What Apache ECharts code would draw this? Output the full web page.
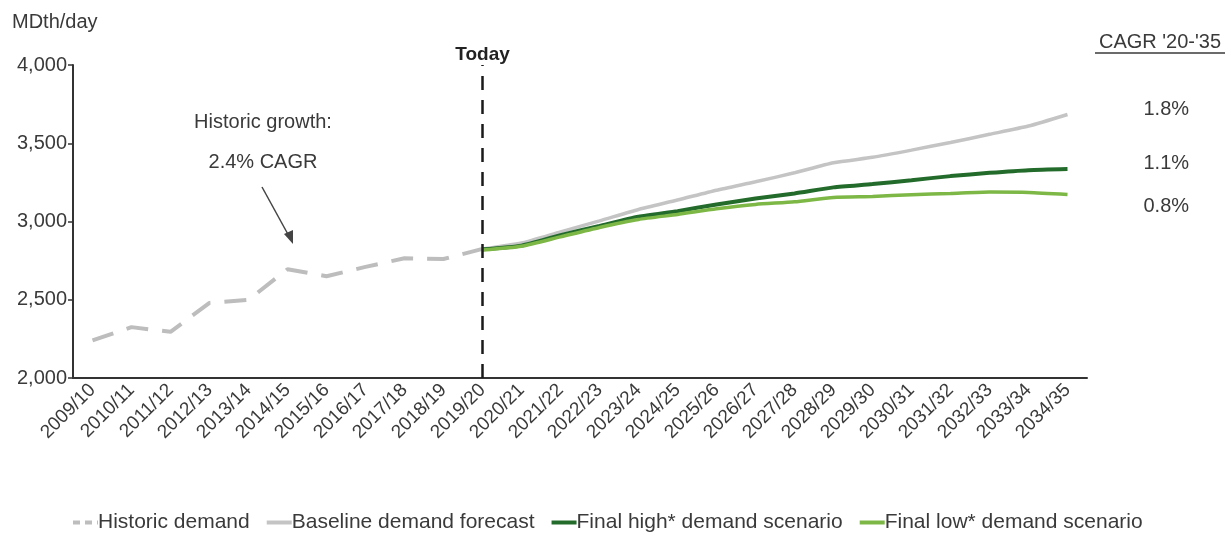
<!DOCTYPE html>
<html>
<head>
<meta charset="utf-8">
<script src="https://cdn.jsdelivr.net/npm/echarts@6/dist/echarts.min.js"></script>
<style>
html,body{margin:0;padding:0;background:#fff;}
#chart{width:1228px;height:535px;}
</style>
</head>
<body>
<div id="chart"></div>
<script>
const categories = ['2009/10','2010/11','2011/12','2012/13','2013/14','2014/15','2015/16','2016/17','2017/18','2018/19','2019/20','2020/21','2021/22','2022/23','2023/24','2024/25','2025/26','2026/27','2027/28','2028/29','2029/30','2030/31','2031/32','2032/33','2033/34','2034/35'];
const historic = [2240,2325,2295,2480,2500,2695,2650,2710,2765,2760,2825];
const baseline = [2825,2863,2934,3004,3077,3137,3200,3254,3311,3375,3410,3456,3505,3557,3610,3684];
const high = [2822,2846,2913,2972,3030,3066,3109,3147,3179,3218,3239,3264,3290,3311,3328,3335];
const low = [2818,2842,2902,2962,3013,3045,3081,3109,3126,3154,3160,3171,3179,3188,3186,3173];
const cagr = ['1.8%','1.1%','0.8%'];
const yTicks = {min:2000, max:4000, interval:500};
const todayCategory = '2019/20';

const forecastStart = categories.indexOf(todayCategory);
const padFront = arr => Array(forecastStart).fill(null).concat(arr);
const padBack = arr => arr.concat(Array(categories.length - arr.length).fill(null));

const chart = echarts.init(document.getElementById('chart'), null, {renderer:'canvas'});
const font = 'Liberation Sans, Arial, sans-serif';
const txt = '#3a3a3a';

chart.setOption({
  animation:false,
  textStyle:{fontFamily:font},
  grid:{left:73, right:141, top:65, bottom:157, containLabel:false},
  legend:{
    left:66, top:507, itemGap:15, itemWidth:25, itemHeight:8,
    itemStyle:{opacity:0},
    textStyle:{fontSize:21, color:txt, fontFamily:font, padding:[0,0,0,-5]},
    data:[
      {name:'Historic demand', lineStyle:{type:[7,5], width:4}},
      {name:'Baseline demand forecast', lineStyle:{width:4}},
      {name:'Final high* demand scenario', lineStyle:{width:4}},
      {name:'Final low* demand scenario', lineStyle:{width:4}}
    ]
  },
  xAxis:{
    type:'category', data:categories, boundaryGap:true,
    axisLine:{lineStyle:{color:'#333', width:2}},
    axisTick:{show:false},
    axisLabel:{rotate:45, interval:0, fontSize:19, color:txt, margin:9, fontFamily:font}
  },
  yAxis:{
    type:'value', min:yTicks.min, max:yTicks.max, interval:yTicks.interval,
    splitLine:{show:false},
    axisLine:{show:true, lineStyle:{color:'#333', width:2}},
    axisTick:{show:true, length:5, lineStyle:{color:'#333', width:1.5}},
    axisLabel:{fontSize:20, color:txt, margin:6, fontFamily:font,
      formatter:v => v.toLocaleString('en-US')}
  },
  series:[
    {name:'Historic demand', type:'line', data:padBack(historic), symbol:'none',
     lineStyle:{color:'#bdbdbd', width:4, type:[22,14]}, itemStyle:{color:'#bdbdbd'}},
    {name:'Baseline demand forecast', type:'line', data:padFront(baseline), symbol:'none', smooth:0.2,
     lineStyle:{color:'#c4c4c4', width:3.5}, itemStyle:{color:'#c4c4c4'},
     endLabel:{show:true, formatter:cagr[0], fontSize:20, color:txt, offset:[68,-5], fontFamily:font},
     markLine:{symbol:'none', silent:true,
       lineStyle:{color:'#1a1a1a', width:2.5, type:[14,10]},
       label:{show:true, position:'end', formatter:'Today', fontWeight:'bold', fontSize:19, color:'#222', distance:1, fontFamily:font},
       data:[{xAxis:todayCategory}]}},
    {name:'Final high* demand scenario', type:'line', data:padFront(high), symbol:'none', smooth:0.2,
     lineStyle:{color:'#236b2b', width:4}, itemStyle:{color:'#236b2b'},
     endLabel:{show:true, formatter:cagr[1], fontSize:20, color:txt, offset:[68,-6], fontFamily:font}},
    {name:'Final low* demand scenario', type:'line', data:padFront(low), symbol:'none', smooth:0.2,
     lineStyle:{color:'#7db846', width:3.5}, itemStyle:{color:'#7db846'},
     endLabel:{show:true, formatter:cagr[2], fontSize:20, color:txt, offset:[68,12], fontFamily:font}}
  ],
  graphic:[
    {type:'text', left:12, top:12, style:{text:'MDth/day', fontSize:20, fill:txt, fontFamily:font}},
    {type:'text', x:263, y:122, style:{text:'Historic growth:', fontSize:20, fill:txt, fontFamily:font, align:'center', verticalAlign:'middle'}},
    {type:'text', x:263, y:162, style:{text:'2.4% CAGR', fontSize:20, fill:txt, fontFamily:font, align:'center', verticalAlign:'middle'}},
    {type:'line', shape:{x1:262, y1:187, x2:290, y2:238}, style:{stroke:'#444', lineWidth:1.5}},
    {type:'polygon', shape:{points:[[293,244],[284,234],[293,230]]}, style:{fill:'#444'}},
    {type:'text', x:1160, y:42, style:{text:"CAGR '20-'35", fontSize:20, fill:txt, fontFamily:font, align:'center', verticalAlign:'middle'}},
    {type:'line', shape:{x1:1095, y1:53, x2:1225, y2:53}, style:{stroke:txt, lineWidth:1.5}}
  ]
});
</script>
</body>
</html>
